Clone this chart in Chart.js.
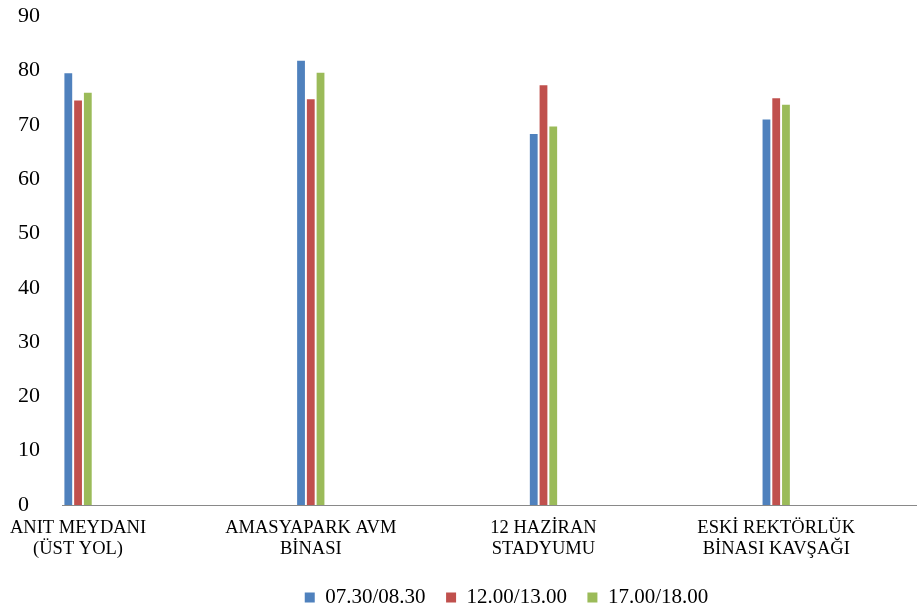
<!DOCTYPE html>
<html>
<head>
<meta charset="utf-8">
<script src="https://cdn.jsdelivr.net/npm/chart.js@4.4.1/dist/chart.umd.min.js"></script>
<style>
  html, body { margin: 0; padding: 0; background: #ffffff; }
  #wrap { width: 917px; height: 611px; position: relative; }
</style>
</head>
<body>
<div id="wrap"><canvas id="chart"></canvas></div>
<script>
// Measurement points (each label split into its two printed lines)
const categories = [
  ['ANIT MEYDANI', '(ÜST YOL)'],
  ['AMASYAPARK AVM', 'BİNASI'],
  ['12 HAZİRAN', 'STADYUMU'],
  ['ESKİ REKTÖRLÜK', 'BİNASI KAVŞAĞI']
];

// Time windows
const seriesNames = ['07.30/08.30', '12.00/13.00', '17.00/18.00'];

// Values per time window
const morning = [79.5, 81.8, 68.3, 71.0];
const noon    = [74.5, 74.7, 77.3, 74.9];
const evening = [75.9, 79.6, 69.7, 73.7];

const yTicks = [0, 10, 20, 30, 40, 50, 60, 70, 80, 90];

const colors = ['#4F81BD', '#C0504D', '#9BBB59'];
const serif = '"Liberation Serif", "Times New Roman", serif';

const toPoints = vals => vals.map((v, i) => ({ x: i, y: v }));

// Nudges the legend row sideways after layout
const legendShift = {
  id: 'legendShift',
  afterLayout(chart, args, opts) {
    const lg = chart.legend;
    if (lg) { lg.left += opts.dx; lg.right += opts.dx; }
  }
};

new Chart(document.getElementById('chart'), {
  type: 'bar',
  data: {
    datasets: [morning, noon, evening].map((vals, k) => ({
      label: seriesNames[k],
      data: toPoints(vals),
      backgroundColor: colors[k],
      borderColor: colors[k],
      borderWidth: 0,
      barPercentage: 0.8,
      categoryPercentage: 0.1257
    }))
  },
  plugins: [legendShift],
  options: {
    responsive: true,
    maintainAspectRatio: false,
    animation: false,
    layout: { padding: { left: 18, right: 0, top: 0, bottom: -7 } },
    plugins: {
      tooltip: { enabled: false },
      legendShift: { dx: 17 },
      legend: {
        position: 'bottom',
        fullSize: false,
        labels: {
          boxWidth: 10,
          boxHeight: 10,
          padding: 20.5,
          color: '#000000',
          font: { family: serif, size: 21 }
        }
      }
    },
    scales: {
      x: {
        type: 'linear',
        min: -0.069,
        max: 3.605,
        offset: false,
        grid: { display: false },
        border: { display: true, color: '#898989', width: 1 },
        afterBuildTicks: scale => {
          scale.ticks = categories.map((_, i) => ({ value: i }));
        },
        afterFit: scale => { scale.height = 61.5; },
        ticks: {
          autoSkip: false,
          maxRotation: 0,
          padding: 5,
          color: '#000000',
          font: { family: serif, size: 18.5, lineHeight: 1.13 },
          callback: value => categories[value]
        }
      },
      y: {
        min: 0,
        max: 90,
        grid: { display: false },
        border: { display: false },
        afterBuildTicks: scale => {
          scale.ticks = yTicks.map(v => ({ value: v }));
        },
        afterFit: scale => { scale.width = 44; },
        ticks: {
          crossAlign: 'far',
          color: '#000000',
          font: { family: serif, size: 22 }
        }
      }
    }
  }
});
</script>
</body>
</html>
